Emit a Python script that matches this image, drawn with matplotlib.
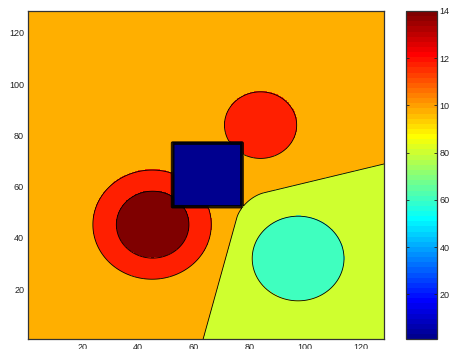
import numpy as np
import matplotlib
matplotlib.use("Agg")
import matplotlib.pyplot as plt
from matplotlib.colors import ListedColormap, Normalize

plt.rcParams['font.family'] = ['Liberation Sans', 'DejaVu Sans']

# Region values of the phantom
background_value = 98
wedge_value = 80
disk_values = [60, 118, 140, 118]          # cyan disk, outer ring, inner core, upper disk
square_value = 1

# Disk geometry: (cx, cy, r)
disks = [(97.5, 32.0, 16.5), (45.0, 45.2, 21.4), (45.2, 45.2, 13.1), (84.0, 84.0, 13.1)]
# Square: (x0, x1, y0, y1)
square = (52.4, 77.3, 52.2, 77.0)
# Wedge bounded by two lines, rounded corner
wedge_line1 = ((63.4, 0.5), (76.0, 49.7))
wedge_line2 = ((85.0, 57.5), (128.8, 68.9))
wedge_round = 7.0

clim = (1, 140)
cbar_ticks = [20, 40, 60, 80, 100, 120, 140]
axis_ticks = [20, 40, 60, 80, 100, 120]
contour_levels = [10, 30, 50, 70, 90, 110, 130]


def jet_matlab(m=64):
    n = int(np.ceil(m / 4))
    u = np.concatenate([np.arange(1, n + 1) / n, np.ones(n - 1), np.arange(n, 0, -1) / n])
    g = int(np.ceil(n / 2)) - (1 if m % 4 == 1 else 0) + np.arange(1, len(u) + 1)
    r = g + n
    b = g - n
    J = np.zeros((m, 3))
    for col, idx in ((0, r), (1, g), (2, b)):
        ok = (idx >= 1) & (idx <= m)
        J[idx[ok] - 1, col] = u[ok]
    return ListedColormap(J)


N = 900
lo, hi = 0.5, 128.5
xs = np.linspace(lo, hi, N)
X, Y = np.meshgrid(xs, xs)


def sd_line(p0, p1):
    d = np.array(p1) - np.array(p0)
    d = d / np.hypot(*d)
    n = np.array([-d[1], d[0]])
    return (X - p0[0]) * n[0] + (Y - p0[1]) * n[1]


def sd_wedge():
    d1 = sd_line(*wedge_line1)
    d2 = sd_line(*wedge_line2)
    r = wedge_round
    u1 = np.maximum(r + d1, 0)
    u2 = np.maximum(r + d2, 0)
    return np.minimum(-r, np.maximum(d1, d2)) + np.hypot(u1, u2)


def sd_disk(cx, cy, r):
    return np.hypot(X - cx, Y - cy) - r


def sd_box(x0, x1, y0, y1):
    cx, cy = (x0 + x1) / 2, (y0 + y1) / 2
    hx, hy = (x1 - x0) / 2, (y1 - y0) / 2
    qx = np.abs(X - cx) - hx
    qy = np.abs(Y - cy) - hy
    return np.hypot(np.maximum(qx, 0), np.maximum(qy, 0)) + np.minimum(np.maximum(qx, qy), 0)


ramp = 1.2
shapes = [(sd_wedge(), wedge_value)]
shapes += [(sd_disk(*d), v) for d, v in zip(disks, disk_values)]
shapes += [(sd_box(*square), square_value)]

soft = np.full(X.shape, float(background_value))
hard = np.full(X.shape, float(background_value))
for dist, val in shapes:
    a = np.clip(0.5 - dist / ramp, 0, 1)
    soft = soft * (1 - a) + val * a
    hard = np.where(dist < 0, val, hard)

cmap = jet_matlab(64)
norm = Normalize(*clim)

fig = plt.figure(figsize=(4.49, 3.49), dpi=100)
ax = fig.add_axes([0.063, 0.0278, 0.793, 0.9407])
ax.imshow(hard, extent=(lo, hi, lo, hi), origin='lower', cmap=cmap, norm=norm,
          interpolation='nearest', aspect='auto')
ax.contour(X, Y, soft, levels=contour_levels, colors='k', linewidths=0.6)
ax.set_xlim(lo, hi)
ax.set_ylim(lo, hi)
ax.set_xticks(axis_ticks)
ax.set_yticks(axis_ticks)
ax.tick_params(length=0, labelsize=6.5, pad=3, colors='#222222')
for s in ax.spines.values():
    s.set_linewidth(0.9)
    s.set_color('#333333')

cax = fig.add_axes([0.9036, 0.0278, 0.0697, 0.9407])
sm = matplotlib.cm.ScalarMappable(norm=norm, cmap=cmap)
cb = fig.colorbar(sm, cax=cax, ticks=cbar_ticks)
cax.tick_params(direction='in', left=True, right=True, length=2.5, width=0.6,
                labelsize=6.5, pad=2, colors='#222222')
cb.outline.set_linewidth(0.9)
cb.outline.set_edgecolor('#333333')

fig.savefig('out.png', dpi=100)
